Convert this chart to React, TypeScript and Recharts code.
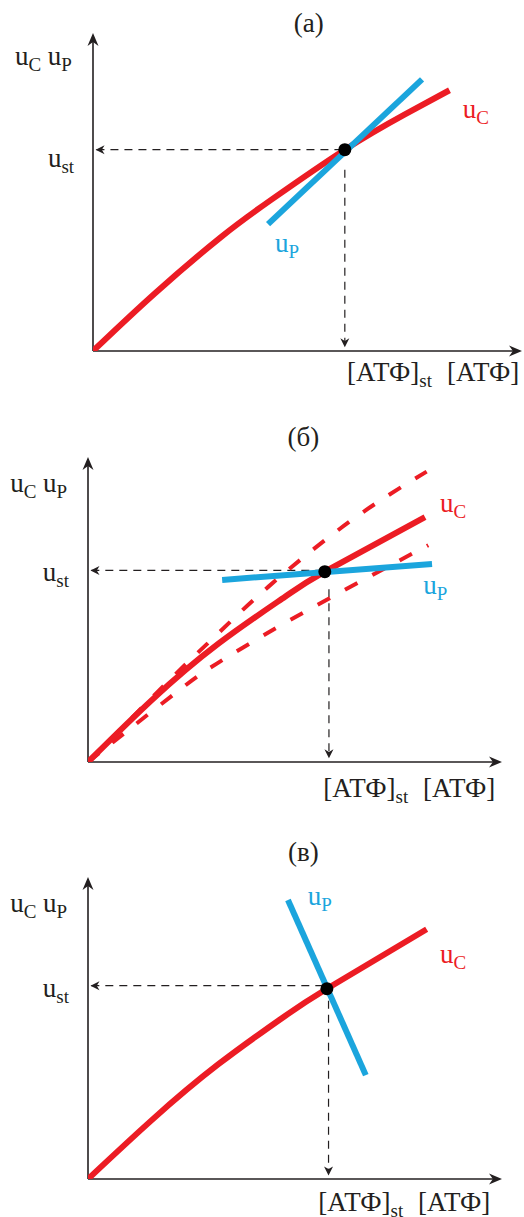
import React from 'react';
import { ComposedChart, Line, XAxis, YAxis, ReferenceLine, ReferenceDot } from 'recharts';

// ---------- data (chart units 0..100 on both axes) ----------
const redA = [
  { x: 0, y: 0 }, { x: 14.4, y: 18.1 }, { x: 29.9, y: 35.9 }, { x: 41.6, y: 47.6 },
  { x: 58.7, y: 63.3 }, { x: 72.7, y: 74.4 }, { x: 83.1, y: 82.0 },
];
const blueA = [{ x: 40.8, y: 39.9 }, { x: 76.7, y: 85.4 }];
const stA = { x: 58.7, y: 63.3 };

const redB = [
  { x: 0, y: 0 }, { x: 15.4, y: 20.3 }, { x: 31.5, y: 38.8 }, { x: 47.6, y: 54.2 },
  { x: 57.2, y: 62.4 }, { x: 81.4, y: 80.3 },
];
const redBUpper = [
  { x: 0, y: 0 }, { x: 21.0, y: 28.6 }, { x: 30.7, y: 41.2 }, { x: 43.6, y: 57.5 },
  { x: 63.7, y: 79.3 }, { x: 81.8, y: 95.2 },
];
const redBLower = [
  { x: 0, y: 0 }, { x: 21.0, y: 22.5 }, { x: 31.5, y: 32.6 }, { x: 47.6, y: 45.6 },
  { x: 67.7, y: 60.6 }, { x: 82.2, y: 71.1 },
];
const blueB = [{ x: 32.4, y: 59.7 }, { x: 83.1, y: 64.9 }];
const stB = { x: 57.2, y: 62.4 };
const guideB = { x: 58.2, y: 62.8 };

const redC = [
  { x: 0, y: 0 }, { x: 15.4, y: 19.5 }, { x: 31.5, y: 38.0 }, { x: 47.6, y: 54.0 },
  { x: 57.7, y: 63.0 }, { x: 81.8, y: 82.7 },
];
const blueC = [{ x: 48.3, y: 92.4 }, { x: 67.1, y: 34.4 }];
const stC = { x: 57.7, y: 63.0 };
const guideC = { x: 58.1, y: 64.0 };

const titles = ['(a)', '(б)', '(в)'];
const atp = '[АТФ]';

// ---------- styles ----------
const RED = '#ec1c24';
const BLUE = '#1ba5dd';
const INK = '#231f20';
const FONT = '"Liberation Serif", "DejaVu Serif", serif';
const BIG = 27;
const SUB = 19;

type P = { cx?: number; cy?: number };

const arrowRight = (size: number, half: number) => (p: P) => {
  const { cx = 0, cy = 0 } = p;
  return <path d={`M${cx},${cy} L${cx - size},${cy - half} L${cx - size * 0.7},${cy} L${cx - size},${cy + half} Z`} fill={INK} />;
};
const arrowLeft = (size: number, half: number) => (p: P) => {
  const { cx = 0, cy = 0 } = p;
  return <path d={`M${cx},${cy} L${cx + size},${cy - half} L${cx + size * 0.7},${cy} L${cx + size},${cy + half} Z`} fill={INK} />;
};
const arrowUp = (size: number, half: number) => (p: P) => {
  const { cx = 0, cy = 0 } = p;
  return <path d={`M${cx},${cy} L${cx - half},${cy + size} L${cx},${cy + size * 0.7} L${cx + half},${cy + size} Z`} fill={INK} />;
};
const arrowDown = (size: number, half: number) => (p: P) => {
  const { cx = 0, cy = 0 } = p;
  return <path d={`M${cx},${cy} L${cx - half},${cy - size} L${cx},${cy - size * 0.7} L${cx + half},${cy - size} Z`} fill={INK} />;
};

const subText = (main: string, sub: string, color: string) => (p: P) => (
  <text x={p.cx} y={p.cy} fill={color} fontFamily={FONT} fontSize={BIG}>
    <tspan>{main}</tspan>
    <tspan fontSize={SUB} dy={6}>{sub}</tspan>
  </text>
);
const ucupText = (p: P) => (
  <text x={p.cx} y={p.cy} fill={INK} fontFamily={FONT} fontSize={BIG}>
    <tspan>u</tspan>
    <tspan fontSize={SUB} dy={6}>C</tspan>
    <tspan dy={-6}> u</tspan>
    <tspan fontSize={SUB} dy={6}>P</tspan>
  </text>
);
const plainText = (s: string, anchor: 'start' | 'middle' = 'start') => (p: P) => (
  <text x={p.cx} y={p.cy} fill={INK} fontFamily={FONT} fontSize={BIG} textAnchor={anchor}>{s}</text>
);
const atpStText = (p: P) => (
  <text x={p.cx} y={p.cy} fill={INK} fontFamily={FONT} fontSize={BIG}>
    <tspan>{atp}</tspan>
    <tspan fontSize={SUB} dy={6}>st</tspan>
  </text>
);
const dotShape = (p: P) => <circle cx={p.cx} cy={p.cy} r={6.5} fill="#000" />;

type PanelProps = {
  top: number;
  height: number;
  margin: { top: number; right: number; bottom: number; left: number };
  children: React.ReactNode;
};

function Panel({ top, height, margin, children }: PanelProps) {
  return (
    <div style={{ position: 'absolute', left: 0, top, width: 524, height }}>
      <ComposedChart width={524} height={height} margin={margin}>
        <XAxis type="number" dataKey="x" domain={[0, 100]} allowDataOverflow hide />
        <YAxis type="number" dataKey="y" domain={[0, 100]} allowDataOverflow hide />
        <ReferenceLine segment={[{ x: 0, y: 0 }, { x: 98, y: 0 }]} stroke={INK} strokeWidth={1.6} ifOverflow="visible" />
        <ReferenceLine segment={[{ x: 0, y: 0 }, { x: 0, y: 98 }]} stroke={INK} strokeWidth={1.6} ifOverflow="visible" />
        {children}
      </ComposedChart>
    </div>
  );
}

const dash = '8 6';

function guides(st: { x: number; y: number }, vx: number, vStart: number, hEnd: number) {
  return [
    <ReferenceLine key="h" segment={[{ x: 0.8, y: st.y }, { x: hEnd, y: st.y }]} stroke={INK} strokeWidth={1.2} strokeDasharray={dash} ifOverflow="visible" />,
    <ReferenceLine key="v" segment={[{ x: vx, y: vStart }, { x: vx, y: 2.5 }]} stroke={INK} strokeWidth={1.2} strokeDasharray={dash} ifOverflow="visible" />,
    <ReferenceDot key="ha" x={0.6} y={st.y} r={0} ifOverflow="visible" shape={arrowLeft(9, 4.5)} />,
    <ReferenceDot key="va" x={vx} y={1.2} r={0} ifOverflow="visible" shape={arrowDown(9, 4.5)} />,
  ];
}

function axisArrows() {
  return [
    <ReferenceDot key="xa" x={100} y={0} r={0} ifOverflow="visible" shape={arrowRight(13, 5.5)} />,
    <ReferenceDot key="ya" x={0} y={100} r={0} ifOverflow="visible" shape={arrowUp(13, 5.5)} />,
  ];
}

export default function App() {
  return (
    <div style={{ position: 'absolute', left: 0, top: 0, width: 524, height: 1217, background: '#fff', overflow: 'hidden' }}>
      {/* ---------- (a) ---------- */}
      <Panel top={0} height={400} margin={{ top: 33, right: 2, bottom: 49, left: 93 }}>
        {guides(stA, stA.x, 57, 57.5)}
        <Line data={redA} dataKey="y" type="natural" stroke={RED} strokeWidth={6} dot={false} isAnimationActive={false} />
        <Line data={blueA} dataKey="y" type="linear" stroke={BLUE} strokeWidth={6} dot={false} isAnimationActive={false} />
        <ReferenceDot x={stA.x} y={stA.y} r={6} ifOverflow="visible" shape={dotShape} />
        {axisArrows()}
        <ReferenceDot x={50.3} y={100.3} r={0} ifOverflow="visible" shape={plainText(titles[0], 'middle')} />
        <ReferenceDot x={-18.2} y={90} r={0} ifOverflow="visible" shape={ucupText} />
        <ReferenceDot x={-10.5} y={57.9} r={0} ifOverflow="visible" shape={subText('u', 'st', INK)} />
        <ReferenceDot x={86.2} y={73.3} r={0} ifOverflow="visible" shape={subText('u', 'C', RED)} />
        <ReferenceDot x={42.4} y={31.1} r={0} ifOverflow="visible" shape={subText('u', 'P', BLUE)} />
        <ReferenceDot x={59.2} y={-9.4} r={0} ifOverflow="visible" shape={atpStText} />
        <ReferenceDot x={82.5} y={-9.4} r={0} ifOverflow="visible" shape={plainText(atp)} />
      </Panel>

      {/* ---------- (б) ---------- */}
      <Panel top={400} height={410} margin={{ top: 57, right: 22, bottom: 48, left: 88 }}>
        {guides(guideB, guideB.x, 56.6, 56)}
        <Line data={redBUpper} dataKey="y" type="natural" stroke={RED} strokeWidth={4} strokeDasharray="14 17" dot={false} isAnimationActive={false} />
        <Line data={redBLower} dataKey="y" type="natural" stroke={RED} strokeWidth={4} strokeDasharray="14 17" dot={false} isAnimationActive={false} />
        <Line data={redB} dataKey="y" type="natural" stroke={RED} strokeWidth={6} dot={false} isAnimationActive={false} />
        <Line data={blueB} dataKey="y" type="linear" stroke={BLUE} strokeWidth={6} dot={false} isAnimationActive={false} />
        <ReferenceDot x={stB.x} y={stB.y} r={6} ifOverflow="visible" shape={dotShape} />
        {axisArrows()}
        <ReferenceDot x={52.0} y={103.6} r={0} ifOverflow="visible" shape={plainText(titles[1], 'middle')} />
        <ReferenceDot x={-18.8} y={88.5} r={0} ifOverflow="visible" shape={ucupText} />
        <ReferenceDot x={-10.9} y={59.2} r={0} ifOverflow="visible" shape={subText('u', 'st', INK)} />
        <ReferenceDot x={85.0} y={82.0} r={0} ifOverflow="visible" shape={subText('u', 'C', RED)} />
        <ReferenceDot x={81.0} y={55.0} r={0} ifOverflow="visible" shape={subText('u', 'P', BLUE)} />
        <ReferenceDot x={56.8} y={-11.5} r={0} ifOverflow="visible" shape={atpStText} />
        <ReferenceDot x={80.9} y={-11.5} r={0} ifOverflow="visible" shape={plainText(atp)} />
      </Panel>

      {/* ---------- (в) ---------- */}
      <Panel top={810} height={407} margin={{ top: 67, right: 22, bottom: 38, left: 88 }}>
        {guides(guideC, guideC.x, 59, 56.5)}
        <Line data={redC} dataKey="y" type="natural" stroke={RED} strokeWidth={6} dot={false} isAnimationActive={false} />
        <Line data={blueC} dataKey="y" type="linear" stroke={BLUE} strokeWidth={6} dot={false} isAnimationActive={false} />
        <ReferenceDot x={stC.x} y={stC.y} r={6} ifOverflow="visible" shape={dotShape} />
        {axisArrows()}
        <ReferenceDot x={52.0} y={105.3} r={0} ifOverflow="visible" shape={plainText(titles[2], 'middle')} />
        <ReferenceDot x={-18.8} y={88.4} r={0} ifOverflow="visible" shape={ucupText} />
        <ReferenceDot x={-10.9} y={60.3} r={0} ifOverflow="visible" shape={subText('u', 'st', INK)} />
        <ReferenceDot x={53.1} y={90.7} r={0} ifOverflow="visible" shape={subText('u', 'P', BLUE)} />
        <ReferenceDot x={85.0} y={71.5} r={0} ifOverflow="visible" shape={subText('u', 'C', RED)} />
        <ReferenceDot x={55.6} y={-10.6} r={0} ifOverflow="visible" shape={atpStText} />
        <ReferenceDot x={79.7} y={-10.6} r={0} ifOverflow="visible" shape={plainText(atp)} />
      </Panel>
    </div>
  );
}
